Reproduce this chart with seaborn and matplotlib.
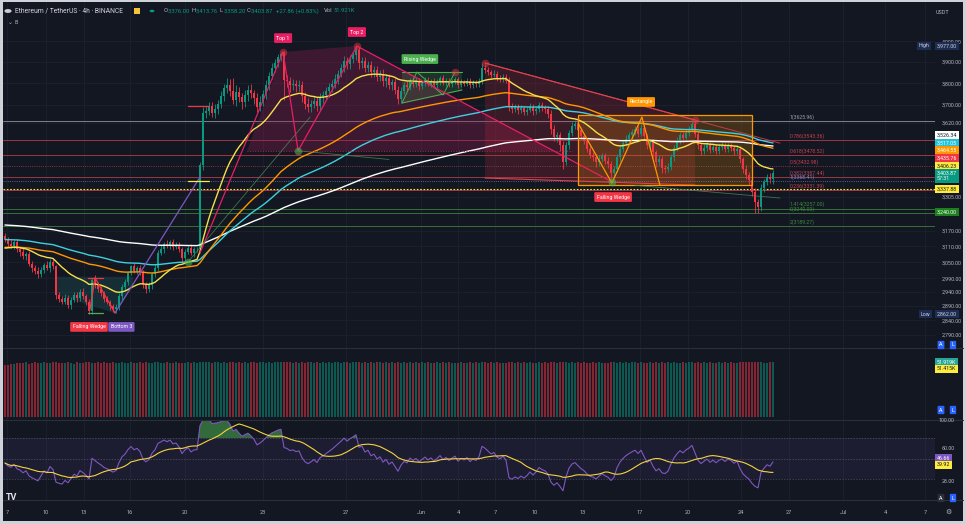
import numpy as np
import pandas as pd
import matplotlib
matplotlib.use("Agg")
import matplotlib.pyplot as plt
import seaborn as sns
from matplotlib.patches import Polygon, Rectangle, Circle
from matplotlib.ticker import NullLocator

sns.set_theme(style="dark")
plt.rcParams['font.family'] = ['Roboto', 'DejaVu Sans']

# ---------------- data (4h candles) ----------------
first_open = 3150.0
closes = [
    3138, 3120, 3112, 3125, 3098, 3090, 3072, 3080, 3045, 3030,
    3018, 3005, 3022, 3040, 3028, 3052, 3035, 2928, 2915, 2905,
    2920, 2895, 2912, 2930, 2918, 2940, 2925, 2905, 2872, 2985,
    2968, 2950, 2935, 2915, 2905, 2890, 2878, 2885, 2925, 2960,
    2978, 3010, 3035, 3018, 3028, 3012, 2968, 2952, 2965, 3005,
    3030, 3085, 3100, 3118, 3110, 3125, 3108, 3115, 3098, 3065,
    3090, 3105, 3085, 3098, 3100, 3437, 3663, 3672, 3695, 3665,
    3680, 3705, 3740, 3778, 3790, 3765, 3722, 3760, 3735, 3712,
    3745, 3770, 3752, 3730, 3692, 3715, 3748, 3790, 3835, 3872,
    3895, 3925, 3940, 3815, 3808, 3790, 3798, 3785, 3792, 3740,
    3705, 3688, 3702, 3718, 3695, 3730, 3745, 3762, 3780, 3798,
    3820, 3845, 3870, 3905, 3890, 3915, 3935, 3960, 3895, 3905,
    3870, 3885, 3850, 3862, 3830, 3845, 3808, 3825, 3790, 3805,
    3770, 3728, 3765, 3790, 3780, 3812, 3795, 3808, 3785, 3800,
    3815, 3798, 3810, 3790, 3805, 3822, 3800, 3812, 3795, 3808,
    3818, 3792, 3805, 3798, 3810, 3790, 3802, 3795, 3812, 3870,
    3862, 3850, 3838, 3845, 3825, 3818, 3830, 3812, 3695, 3680,
    3690, 3675, 3685, 3668, 3678, 3692, 3670, 3682, 3700, 3688,
    3680, 3660, 3590, 3555, 3565, 3520, 3450, 3520, 3575, 3605,
    3615, 3588, 3560, 3540, 3505, 3480, 3470, 3448, 3462, 3475,
    3455, 3440, 3405, 3420, 3470, 3505, 3530, 3550, 3565, 3578,
    3590, 3572, 3595, 3560, 3520, 3535, 3490, 3450, 3462, 3425,
    3418, 3430, 3470, 3510, 3540, 3565, 3552, 3575, 3590, 3612,
    3570, 3520, 3495, 3510, 3525, 3502, 3515, 3498, 3512, 3520,
    3505, 3518, 3510, 3495, 3505, 3460, 3420, 3395, 3372, 3325,
    3285, 3262, 3340, 3365, 3388, 3376, 3403.87,
]
wick_up = [
    12, 8, 15, 10, 14, 9, 18, 7, 12, 10,
    9, 14, 11, 8, 16, 10, 12, 6, 14, 10,
    13, 8, 10, 12, 9, 11, 14, 7, 10, 8,
    18, 9, 11, 8, 10, 7, 9, 12, 10, 11,
    10, 9, 5, 12, 8, 11, 10, 7, 12, 9,
    12, 10, 14, 9, 16, 11, 13, 10, 12, 8,
    11, 9, 13, 10, 8, 12, 25, 22, 18, 20,
    22, 18, 25, 20, 33, 28, 58, 30, 24, 20,
    24, 20, 26, 18, 22, 25, 20, 24, 18, 22,
    20, 15, 10, 12, 25, 20, 22, 18, 24, 20,
    20, 24, 18, 22, 20, 24, 18, 20, 22, 18,
    22, 18, 20, 24, 20, 18, 15, 17, 12, 20,
    18, 20, 22, 18, 20, 16, 22, 18, 20, 16,
    18, 15, 16, 14, 18, 12, 16, 14, 18, 12,
    12, 14, 10, 15, 12, 11, 14, 12, 10, 13,
    11, 13, 12, 10, 14, 12, 11, 13, 12, 26,
    18, 14, 12, 16, 13, 15, 12, 14, 16, 14,
    15, 12, 14, 11, 13, 16, 12, 14, 15, 12,
    12, 14, 16, 18, 15, 14, 20, 16, 14, 18,
    15, 14, 12, 16, 13, 15, 12, 14, 16, 12,
    12, 14, 15, 12, 14, 16, 12, 14, 12, 15,
    14, 16, 20, 14, 12, 15, 14, 12, 16, 14,
    12, 14, 15, 12, 16, 14, 12, 15, 14, 20,
    15, 14, 12, 16, 13, 12, 14, 12, 15, 13,
    12, 14, 13, 12, 15, 14, 12, 16, 14, 18,
    15, 12, 18, 14, 12, 16, 10,
]
wick_dn = [
    10, 14, 8, 12, 9, 15, 11, 13, 10, 16,
    12, 15, 9, 11, 8, 13, 10, 14, 12, 9,
    9, 12, 14, 8, 13, 10, 9, 12, 10, 11,
    12, 10, 8, 11, 9, 13, 8, 12, 9, 12,
    11, 13, 9, 10, 12, 8, 14, 17, 10, 12,
    10, 12, 9, 14, 8, 11, 13, 9, 10, 15,
    12, 10, 9, 14, 11, 15, 20, 24, 19, 22,
    25, 20, 18, 24, 22, 26, 20, 28, 22, 30,
    22, 26, 20, 28, 24, 18, 22, 20, 24, 18,
    22, 18, 20, 93, 26, 30, 22, 25, 20, 28,
    24, 20, 22, 18, 25, 20, 22, 18, 24, 20,
    20, 22, 18, 20, 24, 22, 20, 25, 28, 22,
    20, 18, 22, 20, 18, 22, 20, 24, 18, 20,
    20, 22, 15, 14, 16, 12, 15, 14, 16, 13,
    13, 12, 15, 11, 14, 12, 10, 13, 15, 11,
    12, 14, 11, 13, 10, 12, 14, 11, 13, 15,
    14, 12, 15, 11, 13, 12, 14, 12, 22, 18,
    14, 16, 12, 15, 13, 11, 14, 12, 13, 15,
    15, 18, 20, 16, 18, 22, 30, 14, 16, 12,
    14, 16, 13, 15, 12, 14, 15, 18, 14, 12,
    16, 18, 39, 14, 12, 15, 13, 12, 14, 12,
    12, 15, 13, 16, 14, 12, 18, 22, 16, 20,
    14, 12, 13, 15, 12, 14, 16, 12, 14, 13,
    14, 16, 18, 12, 14, 15, 12, 14, 13, 12,
    13, 12, 14, 15, 12, 16, 18, 15, 20, 18,
    45, 22, 15, 14, 12, 14, 18,
]
volumes_k = [
    49.1, 48.6, 50.2, 49.8, 50.9, 51.3, 50.6, 51.8, 50.4, 51.1,
    51.6, 50.8, 51.2, 51.9, 50.7, 51.4, 52.0, 51.5, 50.9, 51.3,
    50.6, 51.8, 51.1, 50.4, 51.7, 51.2, 50.9, 51.6, 52.1, 51.4,
    51.0, 51.7, 50.8, 51.5, 51.2, 50.6, 51.9, 51.3, 50.7, 51.8,
    51.4, 50.9, 51.6, 51.1, 50.5, 51.8, 51.3, 52.0, 51.2, 50.8,
    51.5, 51.9, 51.1, 50.7, 51.6, 51.3, 50.9, 51.7, 51.0, 51.4,
    50.8, 51.6, 51.2, 51.9, 51.4, 52.3, 52.1, 51.6, 51.8, 51.2,
    51.5, 51.9, 51.3, 51.7, 51.1, 51.8, 52.0, 51.4, 51.6, 51.2,
    51.7, 51.3, 51.9, 51.5, 51.0, 51.6, 51.8, 51.2, 51.9, 51.4,
    51.6, 52.0, 51.8, 52.2, 51.5, 51.7, 51.3, 51.9, 51.4, 51.6,
    51.2, 51.8, 51.5, 51.1, 51.7, 51.4, 51.9, 51.3, 51.6, 51.0,
    51.5, 51.8, 51.2, 51.6, 51.9, 51.4, 51.7, 52.1, 51.5, 51.3,
    51.7, 51.2, 51.6, 51.0, 51.5, 51.8, 51.3, 51.6, 51.1, 51.7,
    51.4, 51.9, 51.2, 51.5, 51.0, 51.6, 51.3, 51.7, 51.1, 51.5,
    51.2, 51.6, 51.0, 51.4, 51.7, 51.1, 51.5, 51.3, 51.6, 51.0,
    51.4, 51.1, 51.6, 51.3, 51.0, 51.5, 51.2, 51.7, 51.4, 51.8,
    51.5, 51.2, 51.7, 51.3, 51.6, 51.1, 51.4, 51.2, 51.9, 51.6,
    51.3, 51.6, 51.1, 51.5, 51.2, 51.7, 51.0, 51.4, 51.6, 51.3,
    51.5, 51.2, 51.8, 51.6, 51.3, 51.7, 52.0, 51.6, 51.4, 51.7,
    51.3, 51.6, 51.2, 51.5, 51.0, 51.4, 51.7, 51.3, 51.5, 51.1,
    51.4, 51.2, 51.8, 51.5, 51.1, 51.6, 51.3, 51.7, 51.2, 51.5,
    51.6, 51.3, 51.7, 51.4, 51.1, 51.5, 51.2, 51.6, 51.4, 51.7,
    51.2, 51.5, 51.3, 51.6, 51.0, 51.4, 51.7, 51.3, 51.5, 51.6,
    51.4, 51.7, 51.2, 51.5, 51.3, 51.6, 51.1, 51.4, 51.7, 51.3,
    51.5, 51.2, 51.6, 51.4, 51.1, 51.5, 51.8, 51.6, 51.9, 51.7,
    52.0, 51.8, 51.6, 51.4, 51.3, 51.5, 51.919,
]

# moving averages: (span in candles, starting value, colour)
ema_specs = [(220, 3193, '#ffffff'), (110, 3136, '#3fd0e0'),
             (78, 3105, '#ff9800'), (24, 3100, '#f5e04a')]
rsi_seed_gain, rsi_seed_loss = 10.0, 11.0

date_labels = ["7", "10", "13", "16", "20", "23", "27", "Jun", "4", "7", "10",
               "13", "17", "20", "24", "27", "Jul", "4", "7"]
date_pos = [0.67, 13.67, 26.33, 41.67, 60, 86, 113.67, 138.67, 151, 163.33,
            176.67, 192.67, 211.67, 227.67, 245.33, 261.33, 279.33, 293.33, 306.67]
price_ticks = [4000, 3900, 3800, 3700, 3620, 3305, 3170, 3110, 3050, 2990,
               2940, 2890, 2840, 2790]

# fib / horizontal levels: (value, label, colour, style)
fib_levels = [
    (3625.96, "1(3625.96)", '#9ea1aa', '-'),
    (3543.36, "0.786(3543.36)", '#c2404f', '-'),
    (3478.52, "0.618(3478.52)", '#c2404f', '-'),
    (3432.98, "0.5(3432.98)", '#c2404f', ':'),
    (3387.44, "0.382(3387.44)", '#c2404f', '-'),
    (3368.41, "1(3368.41)", '#7986cb', ':'),
    (3331.39, "0.236(3331.39)", '#c2404f', '-'),
    (3257.00, "1.414(3257.00)", '#3f8a3f', '-'),
    (3240.00, "0(3240.00)", '#3f8a3f', '-'),
    (3189.27, "2(3189.27)", '#3f8a3f', '-'),
]

# chart-pattern anchor points (candle index, price)
top1 = (92.7, 3948); top2 = (117.3, 3977); dt_low = (97.7, 3497)
wedge_pk = (150, 3852); jun7 = (160, 3895); right_pk = (230, 3632)
fw_low = (202.3, 3366); left_dot = (61, 3051)

GREEN, RED = '#089981', '#f23645'
BG, GRID, TXT = '#131722', '#1c2030', '#b2b5be'

# ---------------- derived series ----------------
N = len(closes)
idx = np.arange(N)
c = np.array(closes, dtype=float)
o = np.array([first_open] + closes[:-1], dtype=float)
hi = np.maximum(o, c) + np.array(wick_up)
lo = np.minimum(o, c) - np.array(wick_dn)
is_up = c >= o
cols = np.where(is_up, GREEN, RED)

emas = []
for span, seed, col in ema_specs:
    s = pd.Series([seed] + closes, dtype=float).ewm(span=span, adjust=False).mean().values[1:]
    emas.append((s, col))

d = np.diff(np.concatenate([[first_open], c]))
g = pd.Series(np.concatenate([[rsi_seed_gain], np.clip(d, 0, None)])).ewm(alpha=1/14, adjust=False).mean().values[1:]
l = pd.Series(np.concatenate([[rsi_seed_loss], np.clip(-d, 0, None)])).ewm(alpha=1/14, adjust=False).mean().values[1:]
rsi = 100 - 100 / (1 + g / l)
rsi_ma = pd.Series(rsi).rolling(14, min_periods=1).mean().values

# ---------------- figure ----------------
W, H = 966, 524
fig = plt.figure(figsize=(W / 100, H / 100), dpi=100, facecolor='#cfd3d9')
def fx(px): return px / W
def fy(py): return 1 - py / H
fig.add_artist(Rectangle((fx(3), fy(521)), 960 / W, 519 / H, transform=fig.transFigure,
                         fc=BG, ec='none', zorder=-10))

L, R = 3, 935
def add_ax(top, bottom):
    return fig.add_axes([fx(L), fy(bottom), (R - L) / W, (bottom - top) / H])
ax = add_ax(2, 348)
axv = add_ax(348, 420)
axr = add_ax(420, 500)
for a in (ax, axv, axr):
    a.set_facecolor(BG)
    a.set_xlim(-0.667, 310)
    for sp in a.spines.values():
        sp.set_visible(False)
    a.set_xticks(date_pos)
    a.grid(axis='x', color=GRID, lw=0.6)
    a.tick_params(axis='x', length=0, labelbottom=False)
    a.set_xlabel(''); a.set_ylabel('')

# ---- main price pane ----
ax.set_yscale('log')
ax.set_ylim(2745, 4198)
ax.yaxis.tick_right()
ax.set_yticks(price_ticks, labels=[f"{p:,.2f}" for p in price_ticks])
ax.yaxis.set_minor_locator(NullLocator())
ax.tick_params(axis='y', length=0, pad=5, labelsize=3.9, labelcolor=TXT)
ax.grid(axis='y', color=GRID, lw=0.6)

for v, lab, col, ls in fib_levels:
    ax.axhline(v, color=col, lw=0.6, ls=ls, zorder=1, alpha=0.9)
    ax.text(261.5, v * 1.0015, lab, color=col, fontsize=3.7, ha='left', va='bottom', zorder=8)
ax.axhline(3337.88, color='#ffeb3b', lw=0.8, ls=(0, (1.5, 1.5)), zorder=2)

def poly(pts, fc, alpha, z=1):
    ax.add_patch(Polygon(pts, closed=True, fc=fc, ec='none', alpha=alpha, zorder=z))
def seg(pts, col, lw=0.8, ls='-', z=6, alpha=1.0):
    xs, ys = zip(*pts)
    ax.plot(xs, ys, color=col, lw=lw, ls=ls, zorder=z, alpha=alpha)

# double top shading
poly([(80.7, 3496), top1, top2, (183, 3496)], '#8e1f4f', 0.35)
seg([(80.7, 3496), (189, 3496)], '#a0294f', 0.7, ':')
# falling wedge (right) shading
poly([jun7, right_pk, (230, 3353), (160, 3382)], '#c22a3d', 0.22)
seg([jun7, right_pk], '#e0424f', 0.8)
seg([(160, 3382), (230, 3353)], '#e0424f', 0.8)
seg([jun7, (258.3, 3530)], '#e0424f', 0.7, alpha=0.8)
# rising wedge
poly([(132.3, 3852), (152.3, 3852), (152.3, 3768), (132.3, 3708)], '#4caf50', 0.18)
seg([(132.3, 3852), (152.3, 3852)], '#4caf50', 0.8)
seg([(132.3, 3708), (152.3, 3768)], '#4caf50', 0.8)
seg([(132.3, 3708), (137.3, 3852), (146, 3745), (150, 3852)], '#4caf50', 0.7)
# left falling wedge
poly([(17.3, 2996), (42.7, 2996), (42.7, 2960), (36.7, 2865), (17.3, 2930)], '#26a69a', 0.16)
seg([(27.7, 2992), (32.7, 2992)], '#f23645', 0.9)
seg([(27.7, 2865), (32.7, 2865)], '#4caf50', 0.9)
seg([(28.3, 2876), (30, 2992), (36.7, 2865)], '#f23645', 0.9)
# bottom 3 / breakout lines
seg([(36.7, 2866), (65, 3386)], '#7e57c2', 0.9)
seg([(65, 3085), top1], '#e91e63', 0.9)
seg([left_dot, (101.7, 3645)], '#4a8a5a', 0.6, alpha=0.8)
seg([(61, 3695), (68, 3695)], '#f23645', 0.9)
seg([(61, 3369), (68, 3369)], '#ffeb3b', 0.9)
# double top zigzag
seg([top1, dt_low, top2], '#e91e63', 0.9)
seg([top2, fw_low], '#e91e63', 0.9)
seg([dt_low, (128, 3460)], '#4a8a5a', 0.6, alpha=0.8)
# rectangle
ax.add_patch(Rectangle((191, 3353), 58, 3654 - 3353, fc='#ff9800', alpha=0.2, ec='none', zorder=1))
ax.add_patch(Rectangle((191, 3353), 58, 3654 - 3353, fc='none', ec='#ff9800', lw=0.9, zorder=6))
seg([(191, 3618), (202.3, 3361), (212.3, 3645), (218.3, 3353)], '#ff9800', 0.9)
seg([(210, 3352), (258.3, 3300)], '#4a8a5a', 0.6, alpha=0.8)

# candles
ax.vlines(idx, lo, hi, colors=cols, lw=0.6, zorder=3)
ax.bar(idx, np.maximum(np.abs(c - o), 1.2), bottom=np.minimum(o, c), width=0.64,
       color=cols, edgecolor='none', zorder=4)

# moving averages
for s, col in emas:
    sns.lineplot(x=idx, y=s, ax=ax, color=col, lw=1.0, legend=False, estimator=None, zorder=5)
ax.set_xlabel(''); ax.set_ylabel('')

# pivot markers
for p in (top1, top2, wedge_pk, jun7, right_pk):
    ax.scatter([p[0]], [p[1]], s=30, color='#f23645', alpha=0.45, zorder=7, linewidths=0)
for p in (dt_low, fw_low, left_dot):
    ax.scatter([p[0]], [p[1]], s=30, color='#4caf50', alpha=0.6, zorder=7, linewidths=0)

def tag(x, y, s, fc, z=9):
    ax.text(x, y, s, fontsize=3.8, color='white', ha='center', va='center', zorder=z,
            bbox=dict(boxstyle='round,pad=0.45,rounding_size=0.2', fc=fc, ec='none'))
tag(92.7, 4016, "Top 1", '#e91e63')
tag(117.3, 4046, "Top 2", '#e91e63')
tag(138.3, 3914, "Rising Wedge", '#4caf50')
tag(212, 3713, "Rectangle", '#ff9800')
tag(202.7, 3304, "Falling Wedge", '#f23645')
tag(38.8, 2817, "Bottom 3", '#7e57c2', z=9)
tag(28.0, 2817, "Falling Wedge", '#f23645', z=10)

# ---- volume pane ----
axv.bar(idx, volumes_k, width=0.7, color=cols, alpha=0.5, edgecolor='none')
axv.set_ylim(-2.83, 65.1)
axv.tick_params(axis='y', left=False, right=False, labelleft=False, labelright=False)

# ---- RSI pane ----
axr.set_ylim(9.5, 87.6)
axr.axhspan(30, 70, color='#7e57c2', alpha=0.1, lw=0)
for lv in (70, 50, 30):
    axr.axhline(lv, color='#787b86', lw=0.5, ls=(0, (2, 2)), alpha=0.6)
axr.fill_between(idx, 70, rsi, where=rsi > 70, color='#4caf50', alpha=0.55, interpolate=True, lw=0)
sns.lineplot(x=idx, y=rsi, ax=axr, color='#7e57c2', lw=0.8, legend=False, estimator=None)
sns.lineplot(x=idx, y=rsi_ma, ax=axr, color='#f5d33f', lw=0.8, legend=False, estimator=None)
axr.set_xlabel(''); axr.set_ylabel('')
axr.yaxis.tick_right()
axr.set_yticks([60, 28], labels=["60.00", "28.00"])
axr.tick_params(axis='y', length=0, pad=5, labelsize=3.9, labelcolor=TXT)
axr.tick_params(axis='x', labelbottom=True, labelsize=4.0, labelcolor=TXT, pad=7)
axr.set_xticks(date_pos, labels=date_labels)

# pane separators
for yy in (348, 420, 500):
    fig.add_artist(plt.Line2D([fx(3), fx(963)], [fy(yy), fy(yy)], color='#2a2e39', lw=0.8))

# ---- right-hand value boxes ----
def rlabel(y, s, fc, tc, x=937):
    fig.text(fx(x), fy(y), s, fontsize=3.8, color=tc, ha='left', va='center',
             bbox=dict(boxstyle='square,pad=0.3', fc=fc, ec='none'), linespacing=1.1)
rlabel(46, "3,977.00", '#1d2c52', '#d1d4dc')
rlabel(46, "High", '#1d2c52', '#d1d4dc', x=919)
rlabel(314, "2,862.00", '#1d2c52', '#d1d4dc')
rlabel(314, "Low", '#1d2c52', '#d1d4dc', x=921)
for y, s, fc, tc in [(135, "3,526.34", '#ffffff', '#131722'),
                     (143, "3,517.05", '#22c3d9', '#ffffff'),
                     (150, "3,464.55", '#ff9800', '#ffffff'),
                     (158, "3,435.76", '#f23645', '#ffffff'),
                     (166, "3,406.23", '#ffeb3b', '#131722'),
                     (176, "3,403.87\n57:31", '#089981', '#ffffff'),
                     (189, "3,337.88", '#ffeb3b', '#131722'),
                     (212, "3,240.00", '#1b7f1b', '#ffffff'),
                     (362, "51.919K", '#26a69a', '#ffffff'),
                     (369, "51.415K", '#ffeb3b', '#131722'),
                     (458, "46.66", '#7e57c2', '#ffffff'),
                     (465, "39.92", '#ffeb3b', '#131722')]:
    rlabel(y, s, fc, tc)
fig.text(fx(939), fy(421), "100.00", fontsize=3.9, color=TXT, ha='left', va='center')
fig.text(fx(936), fy(13), "USDT", fontsize=3.9, color=TXT, ha='left', va='center')

def btn(x, y, s, fc):
    fig.text(fx(x), fy(y), s, fontsize=4.0, color='white', ha='center', va='center',
             bbox=dict(boxstyle='round,pad=0.3,rounding_size=0.15', fc=fc, ec='none'))
for y in (345, 410):
    btn(941, y, "A", '#2962ff'); btn(953, y, "L", '#2962ff')
btn(941, 498, "A", '#2a2e39'); btn(953, 498, "L", '#2962ff')
fig.text(fx(948), fy(512), "⚙", fontsize=5, color=TXT, ha='center', va='center',
         family=['DejaVu Sans'])

# ---- header ----
fig.add_artist(Circle((fx(8), fy(11)), 3.6 / W, transform=fig.transFigure, fc='#c9ccd4', ec='none'))
fig.text(fx(15), fy(11), "Ethereum / TetherUS · 4h · BINANCE", fontsize=4.9, color='#d1d4dc',
         ha='left', va='center')
fig.add_artist(Rectangle((fx(134), fy(14)), 6 / W, 6 / H, transform=fig.transFigure, fc='#f7c33b', ec='none'))
fig.add_artist(Circle((fx(152), fy(11)), 2.4 / W, transform=fig.transFigure, fc='#089981', ec='none'))
hdr = [(164, "O", TXT), (168, "3,376.00", GREEN), (192, "H", TXT), (196, "3,413.76", GREEN),
       (220, "L", TXT), (224, "3,358.20", GREEN), (247, "C", TXT), (251, "3,403.87", GREEN),
       (276, "+27.86 (+0.83%)", GREEN), (324, "Vol", TXT), (334, "51.921K", GREEN)]
for x, s, col in hdr:
    fig.text(fx(x), fy(11), s, fontsize=4.2, color=col, ha='left', va='center')
fig.text(fx(8), fy(23), "⌄ 8", fontsize=4.2, color=TXT, ha='left', va='center',
         family=['DejaVu Sans'])
fig.text(fx(6), fy(497), "TV", fontsize=6.5, color='#e0e3eb', ha='left', va='center', weight='bold')

fig.savefig("out.png", dpi=100, facecolor=fig.get_facecolor())
